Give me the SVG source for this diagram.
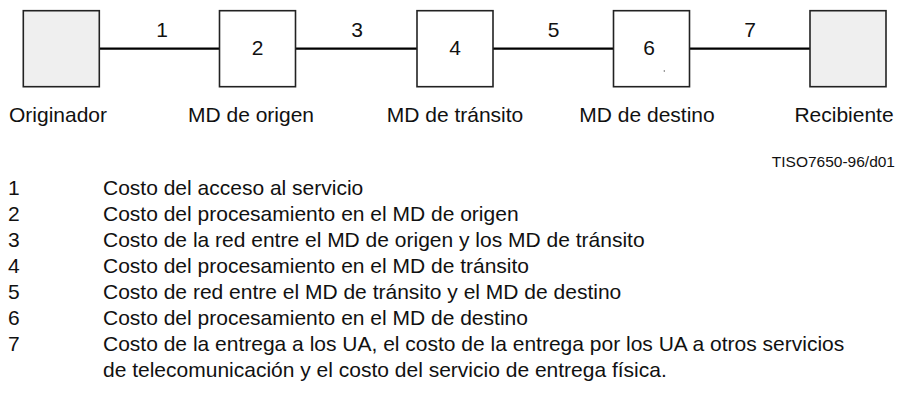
<svg xmlns="http://www.w3.org/2000/svg" width="902" height="394" viewBox="0 0 902 394">
<style>
text{font-family:"Liberation Sans",Arial,sans-serif;fill:#111}
.box{stroke:#222;stroke-width:1.6;fill:#fff}
.end{fill:#efefef}
.num{font-size:21px;text-anchor:middle}
.lab{font-size:21px;text-anchor:middle}
.leg{font-size:21px}
.conn{stroke:#000;stroke-width:2.2;fill:none}
</style>
<rect width="902" height="394" fill="#fff"/>
<g id="connectors">
<line class="conn" x1="99" y1="48.7" x2="219" y2="48.7"/>
<line class="conn" x1="296" y1="48.7" x2="417" y2="48.7"/>
<line class="conn" x1="493" y1="48.7" x2="614" y2="48.7"/>
<line class="conn" x1="689" y1="48.7" x2="810" y2="48.7"/>
<text class="num" x="162" y="37">1</text>
<text class="num" x="357" y="37">3</text>
<text class="num" x="553.5" y="37">5</text>
<text class="num" x="750" y="37">7</text>
</g>
<g id="originador">
<rect class="box end" x="23.3" y="10.7" width="76" height="76"/>
<text class="lab" x="58" y="122">Originador</text>
</g>
<g id="md-origen">
<rect class="box" x="219.5" y="10.7" width="76" height="76"/>
<text class="num" x="257.5" y="55">2</text>
<text class="lab" x="251" y="122">MD de origen</text>
</g>
<g id="md-transito">
<rect class="box" x="417" y="10.7" width="76" height="76"/>
<text class="num" x="455" y="55">4</text>
<text class="lab" x="455" y="122">MD de tránsito</text>
</g>
<g id="md-destino">
<rect class="box" x="613.5" y="10.7" width="76" height="76"/>
<text class="num" x="649" y="55">6</text>
<circle cx="664.3" cy="71" r="0.7" fill="#555"/>
<text class="lab" x="647" y="122">MD de destino</text>
</g>
<g id="recibiente">
<rect class="box end" x="810" y="10.7" width="76" height="76"/>
<text class="lab" x="844" y="122">Recibiente</text>
</g>
<text x="895" y="167" font-size="15.5" text-anchor="end">TISO7650-96/d01</text>
<g id="legend" class="leg">
<text x="8" y="195">1</text><text x="103" y="195">Costo del acceso al servicio</text>
<text x="8" y="221">2</text><text x="103" y="221">Costo del procesamiento en el MD de origen</text>
<text x="8" y="247">3</text><text x="103" y="247">Costo de la red entre el MD de origen y los MD de tránsito</text>
<text x="8" y="273">4</text><text x="103" y="273">Costo del procesamiento en el MD de tránsito</text>
<text x="8" y="299">5</text><text x="103" y="299">Costo de red entre el MD de tránsito y el MD de destino</text>
<text x="8" y="325">6</text><text x="103" y="325">Costo del procesamiento en el MD de destino</text>
<text x="8" y="351">7</text><text x="103" y="351">Costo de la entrega a los UA, el costo de la entrega por los UA a otros servicios</text>
<text x="103" y="377">de telecomunicación y el costo del servicio de entrega física.</text>
</g>
</svg>
